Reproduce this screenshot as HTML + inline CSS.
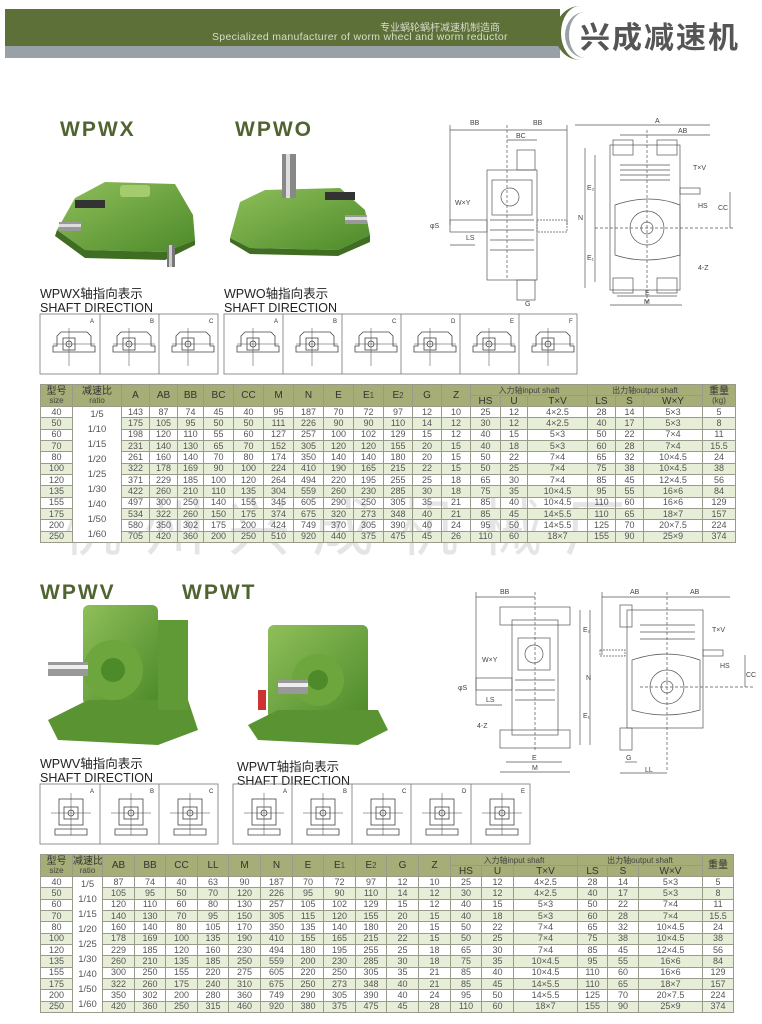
<!DOCTYPE html>
<html><head><meta charset="utf-8"><style>
*{margin:0;padding:0;box-sizing:border-box}
body{width:762px;height:1024px;background:#fff;position:relative;overflow:hidden;font-family:"Liberation Sans","Noto Sans CJK SC",sans-serif;color:#333}
.abs{position:absolute}
.title{font-family:"Liberation Sans",sans-serif;font-weight:bold;font-size:21px;color:#4f6430;letter-spacing:2px}
.cap{font-size:12.5px;line-height:14px;color:#222}
table{border-collapse:collapse;table-layout:fixed;font-size:9px;color:#555;position:absolute}
td,th{border:1px solid #9a9a8a;text-align:center;padding:0;line-height:9px;overflow:hidden;white-space:nowrap}
th{background:#a6ad77;color:#333;font-weight:normal;font-size:10px;line-height:9px}
th small{font-size:8px;color:#444}
tr.r td{height:10.9px}
tr.g td{background:#e7eed8}
td.rat{background:#fff!important;line-height:15px;font-size:9.5px;white-space:normal}
.wm{position:absolute;font-size:62px;color:rgba(180,180,180,0.35);letter-spacing:22px;font-family:"Liberation Sans","Noto Sans CJK SC",sans-serif}
</style></head><body>

<!-- header -->
<div class="abs" style="left:5px;top:9px;width:570px;height:37px;background:#5d7038"></div>
<div class="abs" style="left:5px;top:46px;width:570px;height:12px;background:#9aa1a6"></div>
<div class="abs" style="left:560px;top:0;width:202px;height:62px;background:#fff"></div>
<div class="abs" style="left:555px;top:6px;width:50px;height:54px;border-radius:50%;border-left:6px solid #5d7038"></div>
<div class="abs" style="left:565px;top:12px;width:40px;height:46px;border-radius:50%;border-left:4px solid #9aa1a6"></div>
<div class="abs" style="left:380px;top:19px;font-size:10px;color:#d9dccb">专业蜗轮蜗杆减速机制造商</div>
<div class="abs" style="left:212px;top:31px;font-size:10.5px;color:#d9dccb;letter-spacing:0.3px">Specialized manufacturer of worm whecl and worm reductor</div>
<div class="abs" style="left:580px;top:13px;font-size:30px;font-weight:bold;color:#555;letter-spacing:2px">兴成减速机</div>

<!-- section 1 titles -->
<div class="abs title" style="left:60px;top:118px">WPWX</div>
<div class="abs title" style="left:235px;top:118px">WPWO</div>

<!-- product 1 -->
<svg class="abs" style="left:45px;top:170px" width="160" height="100">
<defs><linearGradient id="gg" x1="0" y1="0" x2="1" y2="1"><stop offset="0" stop-color="#8fbf5a"/><stop offset="1" stop-color="#4d8a2a"/></linearGradient></defs>
<polygon points="12,60 30,28 60,12 130,14 148,45 150,70 120,82 40,80" fill="url(#gg)"/>
<polygon points="40,80 120,82 150,70 150,75 120,90 40,88 10,66 12,60" fill="#3f6d22"/>
<rect x="75" y="15" width="30" height="12" rx="3" fill="#a2cc6e"/>
<rect x="122" y="75" width="8" height="22" fill="#777"/><rect x="124" y="75" width="3" height="22" fill="#ccc"/>
<rect x="14" y="52" width="22" height="9" fill="#999"/><rect x="14" y="54" width="22" height="3" fill="#ddd"/>
<rect x="30" y="30" width="30" height="8" fill="#333"/>
</svg>
<!-- product 2 -->
<svg class="abs" style="left:220px;top:150px" width="160" height="110">
<polygon points="10,88 20,52 45,40 120,38 145,60 150,85 118,100 30,98" fill="url(#gg)"/>
<polygon points="30,98 118,100 150,85 150,92 118,106 30,104 10,92 10,88" fill="#3f6d22"/>
<rect x="62" y="4" width="14" height="44" fill="#888"/><rect x="66" y="4" width="4" height="44" fill="#ddd"/>
<rect x="125" y="65" width="22" height="9" fill="#999"/><rect x="125" y="67" width="22" height="3" fill="#ddd"/>
<rect x="105" y="42" width="30" height="8" fill="#333"/>
</svg>

<div class="abs cap" style="left:40px;top:287px">WPWX轴指向表示<br>SHAFT DIRECTION</div>
<div class="abs cap" style="left:224px;top:287px">WPWO轴指向表示<br>SHAFT DIRECTION</div>

<!-- shaft direction row 1 -->
<svg class="abs" style="left:0;top:310px" width="600" height="70" font-family="Liberation Sans" font-size="6" fill="#333">
<defs>
<g id="box"><path d="M8,36 v-6 h4 v-10 l4,-4 h26 l4,4 v10 h4 v6 z" fill="none" stroke="#444" stroke-width="0.8"/><rect x="18" y="22" width="12" height="12" fill="none" stroke="#444" stroke-width="0.8"/><circle cx="24" cy="28" r="3" fill="none" stroke="#444" stroke-width="0.8"/><line x1="24" y1="12" x2="24" y2="50" stroke="#444" stroke-width="0.5"/><line x1="8" y1="28" x2="50" y2="28" stroke="#444" stroke-width="0.5"/></g>
</defs>
<g stroke="#777" fill="none" stroke-width="0.8"><rect x="40" y="4" width="178" height="60"/><line x1="100" y1="4" x2="100" y2="64"/><line x1="159" y1="4" x2="159" y2="64"/>
<rect x="224" y="4" width="353" height="60"/><line x1="283" y1="4" x2="283" y2="64"/><line x1="342" y1="4" x2="342" y2="64"/><line x1="401" y1="4" x2="401" y2="64"/><line x1="460" y1="4" x2="460" y2="64"/><line x1="519" y1="4" x2="519" y2="64"/></g>
<use href="#box" x="45" y="6"/><use href="#box" x="105" y="6"/><use href="#box" x="164" y="6"/>
<use href="#box" x="229" y="6"/><use href="#box" x="288" y="6"/><use href="#box" x="347" y="6"/><use href="#box" x="406" y="6"/><use href="#box" x="465" y="6"/><use href="#box" x="524" y="6"/>
<text x="90" y="13">A</text><text x="150" y="13">B</text><text x="209" y="13">C</text>
<text x="274" y="13">A</text><text x="333" y="13">B</text><text x="392" y="13">C</text><text x="451" y="13">D</text><text x="510" y="13">E</text><text x="569" y="13">F</text>
</svg>

<!-- top diagram -->
<svg class="abs" style="left:430px;top:110px" width="320" height="200" font-family="Liberation Sans" font-size="7" fill="#444" stroke="#555" stroke-width="0.7">
<g fill="none">
<line x1="20" y1="20" x2="137" y2="20"/><line x1="20" y1="15" x2="20" y2="115"/><line x1="137" y1="15" x2="137" y2="115"/>
<line x1="77" y1="30" x2="107" y2="30"/><line x1="77" y1="15" x2="77" y2="170" stroke-dasharray="3,2"/>
<rect x="57" y="60" width="50" height="110"/><rect x="62" y="70" width="40" height="35"/><circle cx="80" cy="87" r="9"/>
<rect x="87" y="40" width="18" height="20"/><rect x="87" y="170" width="18" height="20"/>
<rect x="20" y="110" width="37" height="12"/><rect x="107" y="110" width="30" height="12" stroke-dasharray="2,1"/>
<line x1="60" y1="110" x2="104" y2="110"/><line x1="60" y1="120" x2="104" y2="120"/><line x1="60" y1="130" x2="104" y2="130"/><line x1="60" y1="140" x2="104" y2="140"/>
<line x1="20" y1="135" x2="45" y2="135"/>
<line x1="145" y1="15" x2="280" y2="15"/><line x1="190" y1="25" x2="280" y2="25"/>
<rect x="180" y="35" width="70" height="145"/><rect x="183" y="30" width="20" height="15"/><rect x="227" y="30" width="20" height="15"/>
<rect x="183" y="168" width="20" height="15"/><rect x="227" y="168" width="20" height="15"/>
<path d="M185,95 q35,-12 65,0 v50 q-35,10 -65,0z"/><circle cx="217" cy="118" r="17"/><circle cx="217" cy="118" r="6"/>
<line x1="190" y1="55" x2="240" y2="55"/><line x1="190" y1="60" x2="240" y2="60"/><line x1="190" y1="65" x2="240" y2="65"/><line x1="190" y1="70" x2="240" y2="70"/>
<rect x="250" y="78" width="20" height="6"/>
<line x1="155" y1="38" x2="155" y2="178"/><line x1="165" y1="45" x2="165" y2="172"/>
<line x1="187" y1="186" x2="247" y2="186"/><line x1="180" y1="195" x2="252" y2="195"/>
<line x1="300" y1="82" x2="300" y2="118"/><line x1="165" y1="118" x2="305" y2="118" stroke-dasharray="3,2"/>
<line x1="217" y1="20" x2="217" y2="195" stroke-dasharray="3,2"/>
</g>
<g stroke="none">
<text x="40" y="15">BB</text><text x="103" y="15">BB</text><text x="86" y="28">BC</text>
<text x="25" y="95">W×Y</text><text x="36" y="130">LS</text><text x="0" y="118">φS</text><text x="95" y="196">G</text>
<text x="225" y="13">A</text><text x="248" y="23">AB</text><text x="263" y="60">T×V</text><text x="268" y="98">HS</text>
<text x="148" y="110">N</text><text x="157" y="80">E₂</text><text x="157" y="150">E₁</text><text x="288" y="100">CC</text>
<text x="268" y="160">4-Z</text><text x="215" y="185">E</text><text x="214" y="194">M</text>
</g></svg>

<!-- table 1 -->
<div class="wm" style="left:60px;top:478px">杭州兴成机械厂</div>
<table style="left:40px;top:384px;width:695px">
<colgroup><col style="width:32px"><col style="width:49px"><col style="width:28px"><col style="width:28px"><col style="width:26px"><col style="width:30px"><col style="width:30px"><col style="width:30px"><col style="width:30px"><col style="width:30px"><col style="width:30px"><col style="width:29px"><col style="width:29px"><col style="width:29px"><col style="width:30px"><col style="width:27px"><col style="width:60px"><col style="width:28px"><col style="width:28px"><col style="width:59px"><col style="width:33px"></colgroup>
<tr style="height:11px"><th rowspan="2">型号<br><small>size</small></th><th rowspan="2">减速比<br><small>ratio</small></th><th rowspan="2">A</th><th rowspan="2">AB</th><th rowspan="2">BB</th><th rowspan="2">BC</th><th rowspan="2">CC</th><th rowspan="2">M</th><th rowspan="2">N</th><th rowspan="2">E</th><th rowspan="2">E<small>1</small></th><th rowspan="2">E<small>2</small></th><th rowspan="2">G</th><th rowspan="2">Z</th><th colspan="3"><small>入力轴input shaft</small></th><th colspan="3"><small>出力轴output shaft</small></th><th rowspan="2">重量<br><small>(kg)</small></th></tr>
<tr style="height:11px"><th>HS</th><th>U</th><th>T×V</th><th>LS</th><th>S</th><th>W×Y</th></tr>
<tr class="r"><td>40</td><td class="rat" rowspan="12">1/5<br>1/10<br>1/15<br>1/20<br>1/25<br>1/30<br>1/40<br>1/50<br>1/60</td><td>143</td><td>87</td><td>74</td><td>45</td><td>40</td><td>95</td><td>187</td><td>70</td><td>72</td><td>97</td><td>12</td><td>10</td><td>25</td><td>12</td><td>4×2.5</td><td>28</td><td>14</td><td>5×3</td><td>5</td></tr>
<tr class="r g"><td>50</td><td>175</td><td>105</td><td>95</td><td>50</td><td>50</td><td>111</td><td>226</td><td>90</td><td>90</td><td>110</td><td>14</td><td>12</td><td>30</td><td>12</td><td>4×2.5</td><td>40</td><td>17</td><td>5×3</td><td>8</td></tr>
<tr class="r"><td>60</td><td>198</td><td>120</td><td>110</td><td>55</td><td>60</td><td>127</td><td>257</td><td>100</td><td>102</td><td>129</td><td>15</td><td>12</td><td>40</td><td>15</td><td>5×3</td><td>50</td><td>22</td><td>7×4</td><td>11</td></tr>
<tr class="r g"><td>70</td><td>231</td><td>140</td><td>130</td><td>65</td><td>70</td><td>152</td><td>305</td><td>120</td><td>120</td><td>155</td><td>20</td><td>15</td><td>40</td><td>18</td><td>5×3</td><td>60</td><td>28</td><td>7×4</td><td>15.5</td></tr>
<tr class="r"><td>80</td><td>261</td><td>160</td><td>140</td><td>70</td><td>80</td><td>174</td><td>350</td><td>140</td><td>140</td><td>180</td><td>20</td><td>15</td><td>50</td><td>22</td><td>7×4</td><td>65</td><td>32</td><td>10×4.5</td><td>24</td></tr>
<tr class="r g"><td>100</td><td>322</td><td>178</td><td>169</td><td>90</td><td>100</td><td>224</td><td>410</td><td>190</td><td>165</td><td>215</td><td>22</td><td>15</td><td>50</td><td>25</td><td>7×4</td><td>75</td><td>38</td><td>10×4.5</td><td>38</td></tr>
<tr class="r"><td>120</td><td>371</td><td>229</td><td>185</td><td>100</td><td>120</td><td>264</td><td>494</td><td>220</td><td>195</td><td>255</td><td>25</td><td>18</td><td>65</td><td>30</td><td>7×4</td><td>85</td><td>45</td><td>12×4.5</td><td>56</td></tr>
<tr class="r g"><td>135</td><td>422</td><td>260</td><td>210</td><td>110</td><td>135</td><td>304</td><td>559</td><td>260</td><td>230</td><td>285</td><td>30</td><td>18</td><td>75</td><td>35</td><td>10×4.5</td><td>95</td><td>55</td><td>16×6</td><td>84</td></tr>
<tr class="r"><td>155</td><td>497</td><td>300</td><td>250</td><td>140</td><td>155</td><td>345</td><td>605</td><td>290</td><td>250</td><td>305</td><td>35</td><td>21</td><td>85</td><td>40</td><td>10×4.5</td><td>110</td><td>60</td><td>16×6</td><td>129</td></tr>
<tr class="r g"><td>175</td><td>534</td><td>322</td><td>260</td><td>150</td><td>175</td><td>374</td><td>675</td><td>320</td><td>273</td><td>348</td><td>40</td><td>21</td><td>85</td><td>45</td><td>14×5.5</td><td>110</td><td>65</td><td>18×7</td><td>157</td></tr>
<tr class="r"><td>200</td><td>580</td><td>350</td><td>302</td><td>175</td><td>200</td><td>424</td><td>749</td><td>370</td><td>305</td><td>390</td><td>40</td><td>24</td><td>95</td><td>50</td><td>14×5.5</td><td>125</td><td>70</td><td>20×7.5</td><td>224</td></tr>
<tr class="r g"><td>250</td><td>705</td><td>420</td><td>360</td><td>200</td><td>250</td><td>510</td><td>920</td><td>440</td><td>375</td><td>475</td><td>45</td><td>26</td><td>110</td><td>60</td><td>18×7</td><td>155</td><td>90</td><td>25×9</td><td>374</td></tr>
</table>

<!-- section 2 -->
<div class="abs title" style="left:40px;top:581px">WPWV</div>
<div class="abs title" style="left:182px;top:581px">WPWT</div>

<svg class="abs" style="left:38px;top:600px" width="170" height="150">
<rect x="45" y="5" width="75" height="100" rx="6" fill="url(#gg)"/>
<circle cx="75" cy="70" r="30" fill="#6ea63e"/><circle cx="75" cy="70" r="12" fill="#4d8a2a"/>
<rect x="10" y="62" width="40" height="14" fill="#999"/><rect x="10" y="65" width="40" height="4" fill="#eee"/>
<polygon points="10,120 50,100 150,100 160,130 120,145 20,140" fill="#5a9432"/>
<rect x="120" y="20" width="30" height="90" fill="#5f9a36"/>
</svg>
<svg class="abs" style="left:238px;top:610px" width="160" height="140">
<rect x="30" y="15" width="100" height="95" rx="6" fill="url(#gg)"/>
<circle cx="80" cy="70" r="26" fill="#6ea63e"/><circle cx="80" cy="70" r="10" fill="#4d8a2a"/>
<rect x="40" y="70" width="30" height="14" fill="#999"/><rect x="40" y="73" width="30" height="4" fill="#eee"/>
<polygon points="10,115 40,100 140,100 150,120 120,135 20,130" fill="#5a9432"/>
<rect x="20" y="80" width="8" height="20" fill="#c33"/>
</svg>

<div class="abs cap" style="left:40px;top:757px">WPWV轴指向表示<br>SHAFT DIRECTION</div>
<div class="abs cap" style="left:237px;top:760px">WPWT轴指向表示<br>SHAFT DIRECTION</div>

<svg class="abs" style="left:0;top:780px" width="600" height="70" font-family="Liberation Sans" font-size="6" fill="#333">
<defs><g id="box2"><rect x="12" y="14" width="24" height="26" fill="none" stroke="#444" stroke-width="0.8"/><rect x="17" y="22" width="14" height="12" fill="none" stroke="#444" stroke-width="0.8"/><circle cx="24" cy="28" r="3" fill="none" stroke="#444" stroke-width="0.8"/><line x1="24" y1="8" x2="24" y2="50" stroke="#444" stroke-width="0.5"/><line x1="4" y1="28" x2="44" y2="28" stroke="#444" stroke-width="0.5"/><path d="M8,44 h32 v6 h-32z" fill="none" stroke="#444" stroke-width="0.8"/></g></defs>
<g stroke="#777" fill="none" stroke-width="0.8"><rect x="40" y="4" width="178" height="60"/><line x1="100" y1="4" x2="100" y2="64"/><line x1="159" y1="4" x2="159" y2="64"/>
<rect x="233" y="4" width="297" height="60"/><line x1="292" y1="4" x2="292" y2="64"/><line x1="352" y1="4" x2="352" y2="64"/><line x1="411" y1="4" x2="411" y2="64"/><line x1="471" y1="4" x2="471" y2="64"/></g>
<use href="#box2" x="47" y="5"/><use href="#box2" x="107" y="5"/><use href="#box2" x="166" y="5"/>
<use href="#box2" x="240" y="5"/><use href="#box2" x="299" y="5"/><use href="#box2" x="359" y="5"/><use href="#box2" x="418" y="5"/><use href="#box2" x="478" y="5"/>
<text x="90" y="13">A</text><text x="150" y="13">B</text><text x="209" y="13">C</text>
<text x="283" y="13">A</text><text x="343" y="13">B</text><text x="402" y="13">C</text><text x="462" y="13">D</text><text x="521" y="13">E</text>
</svg>

<!-- bottom diagram -->
<svg class="abs" style="left:440px;top:580px" width="320" height="200" font-family="Liberation Sans" font-size="7" fill="#444" stroke="#555" stroke-width="0.7">
<g fill="none">
<line x1="36" y1="17" x2="95" y2="17"/><line x1="36" y1="12" x2="36" y2="125"/><line x1="95" y1="12" x2="95" y2="170" stroke-dasharray="3,2"/>
<rect x="60" y="27" width="70" height="18"/><rect x="72" y="40" width="46" height="115"/>
<rect x="78" y="58" width="32" height="32"/><circle cx="94" cy="74" r="9"/>
<rect x="36" y="98" width="36" height="12"/><line x1="75" y1="100" x2="115" y2="100"/><line x1="75" y1="110" x2="115" y2="110"/><line x1="75" y1="120" x2="115" y2="120"/>
<rect x="60" y="150" width="70" height="18"/><line x1="66" y1="182" x2="122" y2="182"/><line x1="60" y1="192" x2="130" y2="192"/>
<line x1="140" y1="30" x2="140" y2="165"/><line x1="150" y1="30" x2="150" y2="165"/><line x1="36" y1="125" x2="62" y2="125"/>
<line x1="162" y1="17" x2="290" y2="17"/><line x1="162" y1="12" x2="162" y2="75"/><line x1="227" y1="12" x2="227" y2="190" stroke-dasharray="3,2"/>
<rect x="187" y="30" width="76" height="118"/><rect x="180" y="25" width="12" height="22"/><rect x="180" y="148" width="12" height="22"/>
<path d="M192,80 q35,-12 68,0 v50 q-35,10 -68,0z"/><circle cx="227" cy="107" r="17"/><circle cx="227" cy="107" r="6"/>
<line x1="200" y1="45" x2="255" y2="45"/><line x1="200" y1="52" x2="255" y2="52"/><line x1="200" y1="59" x2="255" y2="59"/>
<rect x="263" y="70" width="20" height="6"/><rect x="160" y="70" width="25" height="6" stroke-dasharray="2,1"/>
<line x1="180" y1="193" x2="227" y2="193"/><line x1="185" y1="182" x2="197" y2="182"/>
<line x1="200" y1="107" x2="315" y2="107" stroke-dasharray="3,2"/><line x1="305" y1="75" x2="305" y2="107"/>
</g>
<g stroke="none">
<text x="60" y="14">BB</text><text x="190" y="14">AB</text><text x="250" y="14">AB</text>
<text x="42" y="82">W×Y</text><text x="46" y="122">LS</text><text x="18" y="110">φS</text><text x="37" y="148">4-Z</text>
<text x="92" y="180">E</text><text x="92" y="190">M</text><text x="143" y="52">E₂</text><text x="143" y="138">E₁</text><text x="146" y="100">N</text>
<text x="272" y="52">T×V</text><text x="280" y="88">HS</text><text x="306" y="97">CC</text><text x="186" y="180">G</text><text x="205" y="192">LL</text>
</g></svg>

<!-- table 2 -->
<table style="left:40px;top:854px;width:693px">
<colgroup><col style="width:32px"><col style="width:30px"><col style="width:32px"><col style="width:31px"><col style="width:32px"><col style="width:31px"><col style="width:32px"><col style="width:32px"><col style="width:31px"><col style="width:32px"><col style="width:31px"><col style="width:32px"><col style="width:32px"><col style="width:31px"><col style="width:32px"><col style="width:64px"><col style="width:30px"><col style="width:31px"><col style="width:64px"><col style="width:31px"></colgroup>
<tr style="height:11px"><th rowspan="2">型号<br><small>size</small></th><th rowspan="2">减速比<br><small>ratio</small></th><th rowspan="2">AB</th><th rowspan="2">BB</th><th rowspan="2">CC</th><th rowspan="2">LL</th><th rowspan="2">M</th><th rowspan="2">N</th><th rowspan="2">E</th><th rowspan="2">E<small>1</small></th><th rowspan="2">E<small>2</small></th><th rowspan="2">G</th><th rowspan="2">Z</th><th colspan="3"><small>入力轴input shaft</small></th><th colspan="3"><small>出力轴output shaft</small></th><th rowspan="2">重量</th></tr>
<tr style="height:11px"><th>HS</th><th>U</th><th>T×V</th><th>LS</th><th>S</th><th>W×V</th></tr>
<tr class="r"><td>40</td><td class="rat" rowspan="12">1/5<br>1/10<br>1/15<br>1/20<br>1/25<br>1/30<br>1/40<br>1/50<br>1/60</td><td>87</td><td>74</td><td>40</td><td>63</td><td>90</td><td>187</td><td>70</td><td>72</td><td>97</td><td>12</td><td>10</td><td>25</td><td>12</td><td>4×2.5</td><td>28</td><td>14</td><td>5×3</td><td>5</td></tr>
<tr class="r g"><td>50</td><td>105</td><td>95</td><td>50</td><td>70</td><td>120</td><td>226</td><td>95</td><td>90</td><td>110</td><td>14</td><td>12</td><td>30</td><td>12</td><td>4×2.5</td><td>40</td><td>17</td><td>5×3</td><td>8</td></tr>
<tr class="r"><td>60</td><td>120</td><td>110</td><td>60</td><td>80</td><td>130</td><td>257</td><td>105</td><td>102</td><td>129</td><td>15</td><td>12</td><td>40</td><td>15</td><td>5×3</td><td>50</td><td>22</td><td>7×4</td><td>11</td></tr>
<tr class="r g"><td>70</td><td>140</td><td>130</td><td>70</td><td>95</td><td>150</td><td>305</td><td>115</td><td>120</td><td>155</td><td>20</td><td>15</td><td>40</td><td>18</td><td>5×3</td><td>60</td><td>28</td><td>7×4</td><td>15.5</td></tr>
<tr class="r"><td>80</td><td>160</td><td>140</td><td>80</td><td>105</td><td>170</td><td>350</td><td>135</td><td>140</td><td>180</td><td>20</td><td>15</td><td>50</td><td>22</td><td>7×4</td><td>65</td><td>32</td><td>10×4.5</td><td>24</td></tr>
<tr class="r g"><td>100</td><td>178</td><td>169</td><td>100</td><td>135</td><td>190</td><td>410</td><td>155</td><td>165</td><td>215</td><td>22</td><td>15</td><td>50</td><td>25</td><td>7×4</td><td>75</td><td>38</td><td>10×4.5</td><td>38</td></tr>
<tr class="r"><td>120</td><td>229</td><td>185</td><td>120</td><td>160</td><td>230</td><td>494</td><td>180</td><td>195</td><td>255</td><td>25</td><td>18</td><td>65</td><td>30</td><td>7×4</td><td>85</td><td>45</td><td>12×4.5</td><td>56</td></tr>
<tr class="r g"><td>135</td><td>260</td><td>210</td><td>135</td><td>185</td><td>250</td><td>559</td><td>200</td><td>230</td><td>285</td><td>30</td><td>18</td><td>75</td><td>35</td><td>10×4.5</td><td>95</td><td>55</td><td>16×6</td><td>84</td></tr>
<tr class="r"><td>155</td><td>300</td><td>250</td><td>155</td><td>220</td><td>275</td><td>605</td><td>220</td><td>250</td><td>305</td><td>35</td><td>21</td><td>85</td><td>40</td><td>10×4.5</td><td>110</td><td>60</td><td>16×6</td><td>129</td></tr>
<tr class="r g"><td>175</td><td>322</td><td>260</td><td>175</td><td>240</td><td>310</td><td>675</td><td>250</td><td>273</td><td>348</td><td>40</td><td>21</td><td>85</td><td>45</td><td>14×5.5</td><td>110</td><td>65</td><td>18×7</td><td>157</td></tr>
<tr class="r"><td>200</td><td>350</td><td>302</td><td>200</td><td>280</td><td>360</td><td>749</td><td>290</td><td>305</td><td>390</td><td>40</td><td>24</td><td>95</td><td>50</td><td>14×5.5</td><td>125</td><td>70</td><td>20×7.5</td><td>224</td></tr>
<tr class="r g"><td>250</td><td>420</td><td>360</td><td>250</td><td>315</td><td>460</td><td>920</td><td>380</td><td>375</td><td>475</td><td>45</td><td>28</td><td>110</td><td>60</td><td>18×7</td><td>155</td><td>90</td><td>25×9</td><td>374</td></tr>
</table>

</body></html>
